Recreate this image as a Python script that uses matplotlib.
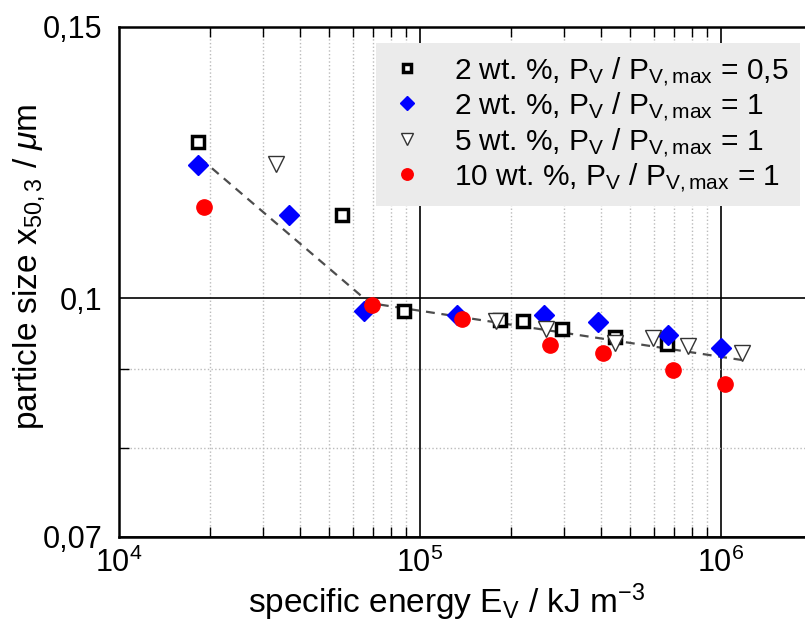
import numpy as np
import matplotlib
matplotlib.use("Agg")
import matplotlib.pyplot as plt
from matplotlib.ticker import FixedLocator, NullFormatter

plt.rcParams['font.family'] = ['Liberation Sans', 'DejaVu Sans']
plt.rcParams['mathtext.fontset'] = 'custom'
plt.rcParams['mathtext.rm'] = 'Liberation Sans'
plt.rcParams['mathtext.it'] = 'Liberation Sans:italic'
plt.rcParams['mathtext.bf'] = 'Liberation Sans:bold'
plt.rcParams['mathtext.default'] = 'regular'

# ---------------- DATA ---------------- #

# 2 wt. %, Pv/Pv,max = 0,5
sq_x = [1.83e4, 5.5e4, 8.85e4, 1.84e5, 2.2e5, 2.96e5, 4.44e5, 6.62e5]
sq_y = [0.1264, 0.1132, 0.0981, 0.0968, 0.0966, 0.0955, 0.0944, 0.0934]

# 2 wt. %, Pv/Pv,max = 1
dia_x = [1.83e4, 3.67e4, 6.5e4, 1.33e5, 2.58e5, 3.9e5, 6.67e5, 1.0e6]
dia_y = [0.1220, 0.1132, 0.0981, 0.0975, 0.0975, 0.0965, 0.0946, 0.0929]

# 5 wt. %, Pv/Pv,max = 1
tri_x = [3.32e4, 1.79e5, 2.62e5, 4.44e5, 5.94e5, 7.77e5, 1.17e6]
tri_y = [0.1222, 0.0966, 0.0955, 0.0936, 0.0942, 0.0931, 0.0921]

# 10 wt. %, Pv/Pv,max = 1
dot_x = [1.92e4, 6.93e4, 1.38e5, 2.7e5, 4.05e5, 6.92e5, 1.03e6]
dot_y = [0.1147, 0.0990, 0.0969, 0.0932, 0.0921, 0.0899, 0.0880]

# piecewise trend line
fit_x = [1.86e4, 6.8e4, 1.17e6]
fit_y = [0.1233, 0.0993, 0.0912]

labels = [r'2 wt. %, P$_V$ / P$_{V,max}$ = 0,5',
          r'2 wt. %, P$_V$ / P$_{V,max}$ = 1',
          r'5 wt. %, P$_V$ / P$_{V,max}$ = 1',
          r'10 wt. %, P$_V$ / P$_{V,max}$ = 1']

# minor x grid only inside the visible part (10^4 .. 10^6)
x_minor = [m * 10.0 ** k for k in (4, 5) for m in range(2, 10)]

# ---------------- PLOT ---------------- #

fig = plt.figure(figsize=(8.05, 6.23), dpi=100)
# 301 px per decade; plot is cut off at the right edge of the picture
ax_w = 805 - 119
x_max = 1e4 * 10 ** (ax_w / 301)
ax = fig.add_axes([119 / 805, 1 - 537 / 623, ax_w / 805, 510 / 623])

ax.set_xscale('log')
ax.set_yscale('log')
ax.set_xlim(1e4, x_max)
ax.set_ylim(0.07, 0.15)

ax.plot(fit_x, fit_y, '--', color='#4d4d4d', lw=1.6, dashes=(4, 3), zorder=2)

ax.plot(sq_x, sq_y, 's', ms=8, mfc='white', mec='black', mew=2.5,
        ls='none', label=labels[0], zorder=3)
ax.plot(dia_x, dia_y, 'D', ms=10, color='blue', ls='none', label=labels[1], zorder=3)
ax.plot(tri_x, tri_y, 'v', ms=11, mfc='white', mec='#333333', mew=1.0,
        ls='none', label=labels[2], zorder=3)
ax.plot(dot_x, dot_y, 'o', ms=11, color='red', ls='none', label=labels[3], zorder=3)

# ticks
ax.yaxis.set_major_locator(FixedLocator([0.07, 0.1, 0.15]))
ax.yaxis.set_minor_locator(FixedLocator([0.08, 0.09]))
ax.yaxis.set_minor_formatter(NullFormatter())
ax.set_yticklabels(['0,07', '0,1', '0,15'])
ax.xaxis.set_major_locator(FixedLocator([1e4, 1e5, 1e6]))
ax.xaxis.set_minor_locator(FixedLocator(x_minor))
ax.xaxis.set_minor_formatter(NullFormatter())
ax.set_xticklabels([r'10$^4$', r'10$^5$', r'10$^6$'])

ax.tick_params(which='both', direction='in', top=True, right=False, labelsize=22)
ax.tick_params(which='major', length=0)
ax.tick_params(axis='x', which='major', pad=8)
ax.tick_params(axis='y', which='major', pad=12)
ax.tick_params(which='minor', length=7, width=1.0)

# grid
ax.grid(which='major', color='black', lw=1.2, ls='-')
ax.grid(which='minor', color='#bbbbbb', lw=1.0, ls=':')
ax.set_axisbelow(True)

for s in ax.spines.values():
    s.set_linewidth(1.8)
ax.spines['right'].set_visible(False)

# x label centred under the visible part of the plot
ax.set_xlabel(r'specific energy E$_V$ / kJ m$^{-3}$', fontsize=24)
ax.set_ylabel(r'particle size x$_{50,3}$ / $\mathit{\mu}$m', fontsize=24)
ax.xaxis.set_label_coords((447 - 119) / ax_w, -0.088)
ax.yaxis.set_label_coords((47 - 119) / ax_w, 0.53)

leg = ax.legend(loc='upper right', bbox_to_anchor=((800 - 119) / ax_w, 0.969),
                fontsize=21.5, frameon=True, fancybox=False, framealpha=1,
                facecolor='#ebebeb', edgecolor='none', markerscale=0.75,
                handlelength=1.3, handletextpad=0.9, labelspacing=0.08,
                borderpad=0.4, borderaxespad=0)
leg.set_zorder(5)

plt.savefig("out.png", dpi=100)
plt.close()
